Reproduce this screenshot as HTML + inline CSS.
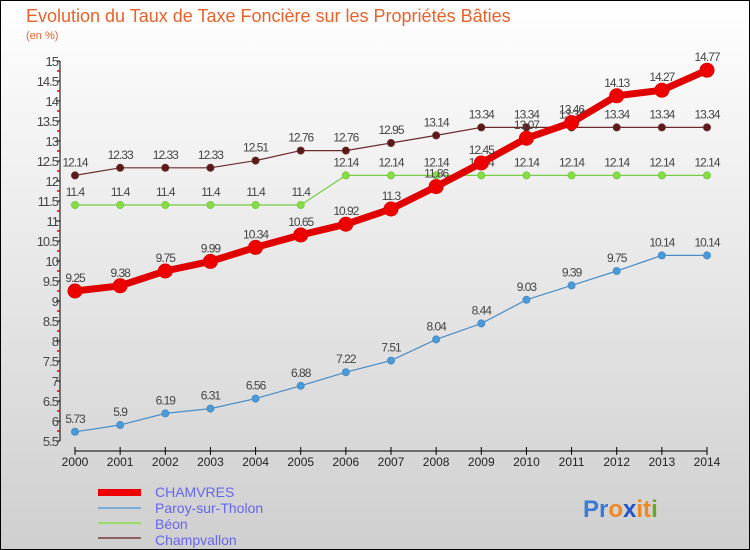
<!DOCTYPE html>
<html><head><meta charset="utf-8"><style>
body{margin:0}
#wrap{width:750px;height:550px;position:relative;overflow:hidden;font-family:"Liberation Sans",sans-serif}
</style></head><body>
<div id="wrap">
<svg id="svg" width="750" height="550" xmlns="http://www.w3.org/2000/svg">
<defs><linearGradient id="bg" x1="0" y1="0" x2="0" y2="1"><stop offset="0" stop-color="#ffffff"/><stop offset="1" stop-color="#cfcfcf"/></linearGradient></defs>
<rect x="0.5" y="0.5" width="749" height="549" fill="url(#bg)" stroke="#000"/>
<text x="26" y="22" font-size="18" fill="#e8622a">Evolution du Taux de Taxe Foncière sur les Propriétés Bâties</text>
<text x="26" y="39" font-size="11" fill="#e8622a">(en %)</text>
<g id="axes"></g><g id="series"></g>
<g>
<rect x="98" y="489" width="43" height="7" fill="#e00"/>
<text x="155" y="497" font-size="14" fill="#6666ee">CHAMVRES</text>
<rect x="98" y="507" width="43" height="2" fill="#7aaed6"/>
<text x="155" y="513" font-size="14" fill="#6666ee">Paroy-sur-Tholon</text>
<rect x="98" y="522" width="43" height="2" fill="#99dd66"/>
<text x="155" y="529" font-size="14" fill="#6666ee">Béon</text>
<rect x="98" y="537" width="43" height="2" fill="#8a6060"/>
<text x="155" y="545" font-size="14" fill="#6666ee">Champvallon</text>
</g>
<text x="583" y="517" font-size="24" font-weight="bold"><tspan fill="#3a7bd5">Pr</tspan><tspan fill="#ee8822">o</tspan><tspan fill="#2255cc">x</tspan><tspan fill="#ee8822">it</tspan><tspan fill="#66aa22">i</tspan></text>
</svg></div>
<script>
const years=[2000,2001,2002,2003,2004,2005,2006,2007,2008,2009,2010,2011,2012,2013,2014];
const chamvres=[9.25,9.38,9.75,9.99,10.34,10.65,10.92,11.3,11.86,12.45,13.07,13.46,14.13,14.27,14.77];
const paroy=[5.73,5.9,6.19,6.31,6.56,6.88,7.22,7.51,8.04,8.44,9.03,9.39,9.75,10.14,10.14];
const beon=[11.4,11.4,11.4,11.4,11.4,11.4,12.14,12.14,12.14,12.14,12.14,12.14,12.14,12.14,12.14];
const champvallon=[12.14,12.33,12.33,12.33,12.51,12.76,12.76,12.95,13.14,13.34,13.34,13.34,13.34,13.34,13.34];
const yTicks=[5.5,6,6.5,7,7.5,8,8.5,9,9.5,10,10.5,11,11.5,12,12.5,13,13.5,14,14.5,15];
const NS="http://www.w3.org/2000/svg";
const xS=i=>75+i*(632/(years.length-1));
const yS=v=>441-(v-5.5)*40;
function mk(t,a,p){const e=document.createElementNS(NS,t);for(const k in a)e.setAttribute(k,a[k]);p.appendChild(e);return e;}
const ax=document.getElementById('axes');
let l=mk('line',{x1:60,y1:yS(15),x2:60,y2:yS(5.5),stroke:'#000'},ax);


yTicks.forEach(v=>{
 mk('line',{x1:56,y1:yS(v),x2:60,y2:yS(v),stroke:'#000'},ax);
 if(v>5.5) mk('line',{x1:57,y1:yS(v)+10,x2:60,y2:yS(v)+10,stroke:'#e00','stroke-width':1.5},ax);
 const t=mk('text',{x:58,y:yS(v)+5,'text-anchor':'end','font-size':13,fill:'#444','letter-spacing':'-1'},ax);
 t.textContent=v;
 
 
});
l=mk('line',{x1:75,y1:451,x2:707,y2:451,stroke:'#000'},ax);


years.forEach((y,i)=>{
 mk('line',{x1:xS(i),y1:447,x2:xS(i),y2:455,stroke:'#000'},ax);
 const t=mk('text',{x:xS(i),y:466,'text-anchor':'middle','font-size':12,fill:'#222'},ax);
 t.textContent=y;
 
 
});
const sg=document.getElementById('series');
function draw(name,vals,col,fill,w,r){
 const g=mk('g',{},sg);
 
 
 mk('polyline',{points:vals.map((v,i)=>xS(i)+','+yS(v)).join(' '),fill:'none',stroke:col,'stroke-width':w},g);
 vals.forEach((v,i)=>{
  const c=mk('circle',{cx:xS(i),cy:yS(v),r:r,fill:fill,stroke:col,'stroke-width':1},g);
  
  
  const t=mk('text',{x:xS(i),y:yS(v)-9,'text-anchor':'middle','font-size':12,fill:'#444','letter-spacing':'-1'},g);
  t.textContent=v;
  
  
 });
}
draw('paroy',paroy,'#4a8cc4','#4a9ad8',1.2,3.5);
draw('beon',beon,'#77cc44','#88dd44',1.2,3.5);
draw('champvallon',champvallon,'#6a2a2a','#5a1a1a',1.2,3.5);
draw('chamvres',chamvres,'#e00000','#ee0000',7,7);
</script>
</body></html>
